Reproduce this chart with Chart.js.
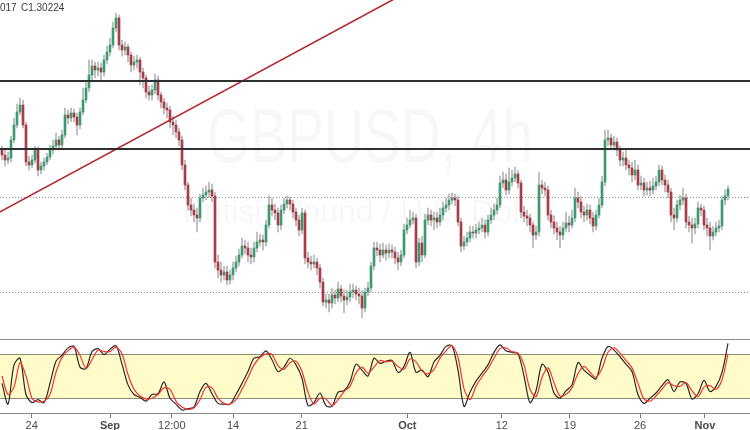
<!DOCTYPE html>
<html lang="en">
<head>
<meta charset="utf-8">
<title>GBPUSD, 4h</title>
<script src="https://cdn.jsdelivr.net/npm/chart.js@4"></script>
<style>
  html, body { margin: 0; padding: 0; background: #fff; }
  body { width: 750px; height: 430px; overflow: hidden; position: relative; font-family: "Liberation Sans", Arial, sans-serif; }
  #main { position: absolute; left: 0; top: 0; }
  #stoch { position: absolute; left: 0; top: 338px; }
  .lg { position: absolute; top: 2px; font-size: 10px; color: #3a3a3a; z-index: 2; }
</style>
</head>
<body>
<canvas id="main" width="750" height="338"></canvas>
<canvas id="stoch" width="750" height="94"></canvas>
<span class="lg" style="left:0">017</span><span class="lg" style="left:21px">C1.30224</span>
<script>
// ---------- data (4h candles) ----------
const firstOpen = 1.3100;
const closes = [
  1.3090,1.3080,1.3084,1.3120,1.3150,1.3176,1.3190,1.3150,1.3076,1.3070,
  1.3080,1.3100,1.3060,1.3068,1.3076,1.3086,1.3100,1.3108,1.3120,1.3110,
  1.3130,1.3170,1.3164,1.3174,1.3166,1.3150,1.3176,1.3200,1.3224,1.3250,
  1.3268,1.3260,1.3264,1.3256,1.3280,1.3296,1.3310,1.3344,1.3364,1.3310,
  1.3300,1.3306,1.3290,1.3270,1.3276,1.3280,1.3256,1.3244,1.3216,1.3210,
  1.3220,1.3240,1.3210,1.3196,1.3184,1.3180,1.3156,1.3150,1.3136,1.3120,
  1.3070,1.3030,1.2990,1.2980,1.2970,1.2964,1.3004,1.3010,1.3016,1.3020,
  1.3008,1.2876,1.2860,1.2850,1.2856,1.2840,1.2850,1.2864,1.2876,1.2890,
  1.2908,1.2904,1.2890,1.2886,1.2904,1.2916,1.2920,1.2916,1.2950,1.2990,
  1.2980,1.2974,1.2950,1.2980,1.2992,1.3000,1.2992,1.2976,1.2960,1.2940,
  1.2974,1.2884,1.2876,1.2872,1.2876,1.2864,1.2836,1.2796,1.2800,1.2794,
  1.2810,1.2804,1.2822,1.2808,1.2800,1.2806,1.2816,1.2820,1.2812,1.2808,
  1.2784,1.2816,1.2824,1.2868,1.2904,1.2900,1.2890,1.2900,1.2894,1.2900,
  1.2896,1.2884,1.2876,1.2890,1.2940,1.2950,1.2960,1.2964,1.2876,1.2914,
  1.2890,1.2960,1.2970,1.2960,1.2964,1.2956,1.2970,1.2984,1.2990,1.3000,
  1.3004,1.3000,1.2956,1.2908,1.2916,1.2924,1.2936,1.2934,1.2940,1.2944,
  1.2950,1.2936,1.2960,1.2970,1.2980,1.2990,1.3034,1.3040,1.3020,1.3036,
  1.3044,1.3052,1.3034,1.2976,1.2968,1.2964,1.2950,1.2930,1.2936,1.3030,
  1.3024,1.3020,1.2970,1.2956,1.2944,1.2936,1.2930,1.2944,1.2954,1.2950,
  1.2964,1.3004,1.2996,1.2976,1.2970,1.2980,1.2964,1.2948,1.2970,1.2990,
  1.3036,1.3120,1.3124,1.3110,1.3116,1.3100,1.3080,1.3084,1.3070,1.3064,
  1.3050,1.3060,1.3030,1.3034,1.3020,1.3024,1.3020,1.3028,1.3036,1.3060,
  1.3040,1.3030,1.3016,1.2970,1.2964,1.2990,1.3000,1.3004,1.2956,1.2950,
  1.2944,1.2952,1.2984,1.2980,1.2950,1.2944,1.2928,1.2936,1.2944,1.2948,
  1.3000,1.3008,1.3022
];
const highs = [
  1.3108,1.3100,1.3096,1.3128,1.3164,1.3192,1.3204,1.3200,1.3156,1.3088,
  1.3090,1.3108,1.3106,1.3076,1.3084,1.3094,1.3110,1.3120,1.3134,1.3128,
  1.3140,1.3184,1.3180,1.3184,1.3182,1.3174,1.3184,1.3224,1.3236,1.3280,
  1.3280,1.3276,1.3276,1.3274,1.3290,1.3308,1.3324,1.3356,1.3374,1.3370,
  1.3320,1.3316,1.3312,1.3296,1.3288,1.3290,1.3286,1.3264,1.3250,1.3228,
  1.3230,1.3252,1.3248,1.3216,1.3204,1.3194,1.3188,1.3168,1.3160,1.3144,
  1.3128,1.3080,1.3036,1.3004,1.2992,1.2984,1.3012,1.3024,1.3028,1.3036,
  1.3032,1.3016,1.2890,1.2876,1.2868,1.2868,1.2860,1.2876,1.2888,1.2902,
  1.2924,1.2920,1.2916,1.2904,1.2916,1.2936,1.2932,1.2930,1.2960,1.3008,
  1.3004,1.2992,1.2984,1.2990,1.3004,1.3008,1.3006,1.3000,1.2984,1.2970,
  1.2984,1.2980,1.2896,1.2888,1.2890,1.2884,1.2872,1.2844,1.2812,1.2812,
  1.2824,1.2820,1.2836,1.2830,1.2820,1.2820,1.2832,1.2832,1.2828,1.2824,
  1.2820,1.2824,1.2836,1.2876,1.2916,1.2916,1.2912,1.2914,1.2910,1.2912,
  1.2910,1.2906,1.2896,1.2900,1.2952,1.2964,1.2980,1.2976,1.2972,1.2924,
  1.2928,1.2972,1.2984,1.2980,1.2976,1.2976,1.2984,1.2996,1.3004,1.3012,
  1.3014,1.3012,1.3008,1.2964,1.2928,1.2936,1.2948,1.2948,1.2952,1.2956,
  1.2964,1.2960,1.2970,1.2984,1.2992,1.3004,1.3048,1.3056,1.3052,1.3064,
  1.3060,1.3066,1.3060,1.3040,1.2988,1.2980,1.2972,1.2956,1.2948,1.3056,
  1.3040,1.3036,1.3028,1.2980,1.2968,1.2956,1.2948,1.2956,1.2976,1.2968,
  1.2980,1.3024,1.3016,1.3008,1.2988,1.2992,1.2990,1.2976,1.2980,1.3004,
  1.3048,1.3140,1.3140,1.3132,1.3128,1.3124,1.3108,1.3096,1.3100,1.3080,
  1.3076,1.3080,1.3070,1.3048,1.3044,1.3036,1.3038,1.3044,1.3048,1.3070,
  1.3068,1.3050,1.3040,1.3024,1.2984,1.3000,1.3010,1.3024,1.3012,1.2968,
  1.2964,1.2964,1.2996,1.2992,1.2988,1.2964,1.2956,1.2948,1.2956,1.2960,
  1.3008,1.3020,1.3028
];
const lows = [
  1.3080,1.3068,1.3072,1.3076,1.3114,1.3144,1.3170,1.3144,1.3068,1.3060,
  1.3064,1.3074,1.3048,1.3052,1.3060,1.3070,1.3080,1.3092,1.3100,1.3100,
  1.3104,1.3124,1.3152,1.3156,1.3156,1.3130,1.3142,1.3170,1.3194,1.3216,
  1.3240,1.3244,1.3248,1.3240,1.3248,1.3272,1.3288,1.3304,1.3336,1.3300,
  1.3288,1.3290,1.3276,1.3256,1.3260,1.3264,1.3230,1.3224,1.3204,1.3200,
  1.3200,1.3212,1.3200,1.3184,1.3172,1.3164,1.3144,1.3130,1.3124,1.3108,
  1.3060,1.3020,1.2980,1.2968,1.2956,1.2936,1.2956,1.2996,1.3000,1.3004,
  1.2996,1.2864,1.2844,1.2836,1.2840,1.2830,1.2832,1.2840,1.2856,1.2868,
  1.2884,1.2892,1.2876,1.2872,1.2876,1.2896,1.2908,1.2900,1.2908,1.2944,
  1.2968,1.2960,1.2936,1.2940,1.2972,1.2984,1.2980,1.2964,1.2948,1.2928,
  1.2932,1.2872,1.2864,1.2860,1.2864,1.2850,1.2824,1.2788,1.2784,1.2776,
  1.2784,1.2792,1.2796,1.2796,1.2774,1.2790,1.2796,1.2804,1.2800,1.2792,
  1.2764,1.2776,1.2808,1.2816,1.2860,1.2888,1.2876,1.2884,1.2880,1.2884,
  1.2884,1.2872,1.2860,1.2868,1.2884,1.2932,1.2944,1.2952,1.2864,1.2868,
  1.2876,1.2884,1.2950,1.2948,1.2940,1.2944,1.2948,1.2960,1.2976,1.2980,
  1.2992,1.2988,1.2948,1.2896,1.2900,1.2908,1.2916,1.2924,1.2924,1.2932,
  1.2936,1.2924,1.2928,1.2952,1.2960,1.2972,1.2984,1.3024,1.3010,1.3012,
  1.3028,1.3036,1.3024,1.2964,1.2956,1.2948,1.2936,1.2904,1.2920,1.2928,
  1.3012,1.3008,1.2960,1.2944,1.2932,1.2920,1.2904,1.2920,1.2936,1.2936,
  1.2944,1.2956,1.2984,1.2964,1.2956,1.2960,1.2952,1.2936,1.2940,1.2964,
  1.2984,1.3028,1.3108,1.3100,1.3100,1.3088,1.3068,1.3068,1.3060,1.3050,
  1.3036,1.3040,1.3020,1.3020,1.3008,1.3010,1.3008,1.3012,1.3020,1.3028,
  1.3030,1.3016,1.3004,1.2956,1.2940,1.2956,1.2980,1.2990,1.2944,1.2936,
  1.2914,1.2932,1.2944,1.2968,1.2940,1.2928,1.2900,1.2920,1.2928,1.2936,
  1.2940,1.2990,1.3000
];
// each candle opens at the previous close
const opens = [firstOpen].concat(closes.slice(0, -1));

// stochastic %K / %D, one reading every second candle
const stochStep = 2;
const stochK = [
  40,12,65,74,25,14,18,14,40,70, 78,88,90,62,60,83,87,79,86,91,
  66,38,25,21,16,25,26,42,20,12, 4,6,8,29,40,26,13,12,12,25,
  40,56,74,76,84,72,56,62,74,65, 47,10,14,27,10,9,28,30,42,66,
  58,50,74,67,70,71,55,63,82,55, 58,49,69,78,90,91,58,9,28,43,
  54,65,82,92,84,82,80,50,14,30, 66,55,27,20,30,38,68,58,51,46,
  74,90,85,76,66,56,25,13,20,27, 37,45,29,42,40,19,26,44,29,36,
  55,94
];
const stochD = [
  50,25,35,68,50,20,15,16,25,55, 75,84,89,78,60,72,85,83,83,89,
  80,52,32,23,19,20,25,34,32,16, 8,5,7,18,35,34,20,13,12,18,
  32,48,65,75,80,79,64,59,68,70, 56,28,12,20,19,10,18,29,36,54,
  62,54,62,71,69,70,63,59,73,69, 57,53,59,74,84,91,75,33,18,36,
  49,60,74,87,88,83,81,65,32,22, 48,61,41,23,25,34,53,63,55,48,
  60,82,88,81,71,61,40,19,16,23, 32,41,37,36,41,30,22,35,37,32,
  45,80
];
const bandLevels = [80, 20];
const frameLevels = [100, 0];

// drawings on the price pane
const blackLevels = [1.3238, 1.3102];
const dottedLevels = [1.3006, 1.2816];
const trendLine = [{ x: -1, y: 1.2975 }, { x: 140, y: 1.3432 }];

// time axis: candle index of each label
const tickIdx = [9.9, 36, 56.6, 77, 99.9, 135.1, 166.6, 189.3, 212.7, 234.3];
const tickLabels = ['24', 'Sep', '12:00', '14', '21', 'Oct', '12', '19', '26', 'Nov'];
const monthLabels = ['Sep', 'Oct', 'Nov'];

// ---------- chart setup ----------
const X_MIN = -2 / 3, X_MAX = 249 + 1 / 3;
const FONT = '"Liberation Sans", Arial, sans-serif';
const UP = '#3d9a70', DOWN = '#a83c48', WICK = '#b5b5b5';

const idx = closes.map((_, i) => i);

function hline(ctx, area, y) {
  const py = Math.round(y) + 0.5;
  ctx.beginPath();
  ctx.moveTo(area.left, py);
  ctx.lineTo(area.right, py);
  ctx.stroke();
}

const watermark = {
  id: 'watermark',
  beforeDatasetsDraw(chart) {
    const ctx = chart.ctx;
    ctx.save();
    ctx.fillStyle = 'rgba(0,0,0,0.03)';
    ctx.textAlign = 'center';
    ctx.font = '76px ' + FONT;
    ctx.fillText('GBPUSD, 4h', 370, 162, 326);
    ctx.font = '32px ' + FONT;
    ctx.fillText('British Pound / U.S. Dollar', 369, 222, 442);
    // dotted price levels sit under the candles
    const y = chart.scales.y, area = chart.chartArea;
    ctx.strokeStyle = '#8e8e8e';
    ctx.lineWidth = 1;
    ctx.setLineDash([1, 2]);
    dottedLevels.forEach(v => hline(ctx, area, y.getPixelForValue(v)));
    ctx.restore();
  }
};

const levels = {
  id: 'levels',
  afterDatasetsDraw(chart) {
    const ctx = chart.ctx, y = chart.scales.y, area = chart.chartArea;
    ctx.save();
    ctx.strokeStyle = '#2f2f2f';
    ctx.lineWidth = 2;
    blackLevels.forEach(v => {
      const py = Math.round(y.getPixelForValue(v));
      ctx.beginPath();
      ctx.moveTo(area.left, py);
      ctx.lineTo(area.right, py);
      ctx.stroke();
    });
    ctx.restore();
  }
};

new Chart(document.getElementById('main'), {
  type: 'bar',
  data: {
    datasets: [
      {
        type: 'line', data: trendLine, borderColor: '#b3282d', borderWidth: 1.6,
        pointRadius: 0, order: 0
      },
      {
        data: idx.map(i => ({ x: i, y: [opens[i], closes[i]] })),
        backgroundColor: idx.map(i => closes[i] >= opens[i] ? UP : DOWN),
        barThickness: 2, minBarLength: 1, grouped: false, order: 1
      },
      {
        data: idx.map(i => ({ x: i, y: [lows[i], highs[i]] })),
        backgroundColor: WICK, barThickness: 1, grouped: false, order: 2
      }
    ]
  },
  options: {
    responsive: false, animation: false, devicePixelRatio: 1,
    layout: { padding: 0 },
    plugins: { legend: { display: false }, tooltip: { enabled: false } },
    scales: {
      x: { type: 'linear', min: X_MIN, max: X_MAX, offset: false, display: false },
      y: { min: 1.2724, max: 1.3400, display: false }
    }
  },
  plugins: [watermark, levels]
});

const bands = {
  id: 'bands',
  beforeDatasetsDraw(chart) {
    const ctx = chart.ctx, y = chart.scales.y, area = chart.chartArea;
    const top = y.getPixelForValue(bandLevels[0]), bot = y.getPixelForValue(bandLevels[1]);
    ctx.save();
    ctx.fillStyle = '#fffcca';
    ctx.fillRect(area.left, top, area.right - area.left, bot - top);
    ctx.lineWidth = 1;
    ctx.strokeStyle = '#8d8d78';
    bandLevels.forEach(v => hline(ctx, area, y.getPixelForValue(v)));
    ctx.strokeStyle = '#8a8a8a';
    frameLevels.forEach(v => hline(ctx, area, y.getPixelForValue(v)));
    ctx.restore();
  }
};

new Chart(document.getElementById('stoch'), {
  type: 'line',
  data: {
    datasets: [
      {
        data: stochK.map((v, j) => ({ x: j * stochStep, y: v })),
        borderColor: '#2a2a2a', borderWidth: 1.2, pointRadius: 0, tension: 0.3, order: 1
      },
      {
        data: stochD.map((v, j) => ({ x: j * stochStep, y: v })),
        borderColor: '#f2362c', borderWidth: 1.2, pointRadius: 0, tension: 0.3, order: 0
      }
    ]
  },
  options: {
    responsive: false, animation: false, devicePixelRatio: 1,
    layout: { padding: 0 },
    plugins: { legend: { display: false }, tooltip: { enabled: false } },
    scales: {
      x: {
        type: 'linear', min: X_MIN, max: X_MAX, offset: false,
        border: { display: false },
        grid: { drawOnChartArea: false, drawTicks: true, tickLength: 4, color: '#777' },
        afterBuildTicks: s => { s.ticks = tickIdx.map(v => ({ value: v })); },
        afterFit: s => { s.height = 18; },
        ticks: {
          autoSkip: false, maxRotation: 0, padding: 1, color: '#4a4a4a',
          font: c => ({ size: 11, family: FONT, weight: monthLabels.includes(tickLabels[c.index]) ? 'bold' : 'normal' }),
          callback: (v, i) => tickLabels[i]
        }
      },
      y: { min: -1.35, max: 101.35, display: false }
    }
  },
  plugins: [bands]
});
</script>
</body>
</html>
